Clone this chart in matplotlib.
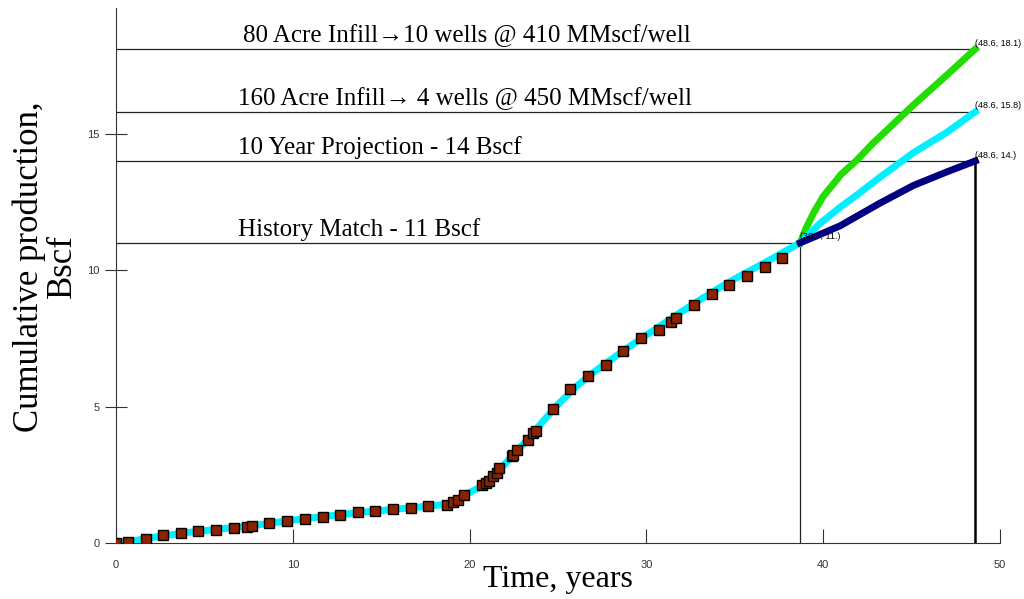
import matplotlib
matplotlib.use("Agg")
import matplotlib.pyplot as plt

# Observed data (years, Bscf)
obs_x = [0.0, 0.66, 1.68, 2.68, 3.68, 4.66, 5.66, 6.66, 7.39, 7.67, 8.67, 9.67, 10.67,
         11.69, 12.69, 13.69, 14.67, 15.67, 16.67, 17.67, 18.7, 19.08, 19.36, 19.70,
         20.68, 20.91, 21.12, 21.34, 21.53, 21.68, 22.38, 22.45, 22.68, 23.29, 23.57,
         23.75, 24.70, 25.70, 26.70, 27.70, 28.69, 29.69, 30.70, 31.39, 31.67, 32.68,
         33.69, 34.69, 35.69, 36.70, 37.69]
obs_y = [0.0, 0.03, 0.16, 0.28, 0.35, 0.43, 0.49, 0.54, 0.57, 0.61, 0.72, 0.81, 0.89,
         0.96, 1.04, 1.12, 1.17, 1.23, 1.28, 1.35, 1.40, 1.50, 1.58, 1.76,
         2.12, 2.19, 2.28, 2.45, 2.57, 2.76, 3.19, 3.24, 3.41, 3.77, 4.02,
         4.10, 4.90, 5.63, 6.12, 6.51, 7.03, 7.50, 7.81, 8.10, 8.24, 8.71,
         9.12, 9.46, 9.80, 10.12, 10.45]

# History-match curve
fit_x = [0, 1, 2, 4, 6, 8, 10, 12, 14, 16, 18, 19, 19.5, 20, 20.5, 21, 21.5, 22, 22.5,
         23, 23.5, 24, 25, 26, 27, 28, 29, 30, 31, 32, 33, 34, 35, 36, 37, 38, 38.7]
fit_y = [0, 0.08, 0.2, 0.38, 0.52, 0.66, 0.84, 0.99, 1.13, 1.25, 1.37, 1.45, 1.6, 1.85,
         2.02, 2.22, 2.5, 2.9, 3.25, 3.6, 3.95, 4.35, 5.08, 5.72, 6.25, 6.72, 7.18,
         7.62, 8.05, 8.48, 8.9, 9.3, 9.68, 10.03, 10.38, 10.75, 11.0]

# Projections
p80_x = [38.7, 39.0, 39.5, 40.0, 41.0, 41.9, 42.8, 43.8, 45.1, 47.0, 48.6]
p80_y = [11.0, 11.5, 12.15, 12.7, 13.5, 14.03, 14.64, 15.25, 16.05, 17.15, 18.1]
p160_x = [38.7, 39.8, 40.95, 41.9, 43.2, 45.1, 47.0, 48.6]
p160_y = [11.0, 11.7, 12.3, 12.75, 13.4, 14.3, 15.05, 15.8]
p10_x = [38.7, 39.8, 40.95, 43.2, 45.1, 47.0, 48.6]
p10_y = [11.0, 11.3, 11.62, 12.45, 13.1, 13.6, 14.0]

ref_levels = [18.1, 15.8, 14.0, 11.0]
ref_ends = [48.6, 48.6, 48.6, 38.7]
ref_texts = ["80 Acre Infill\u219210 wells @ 410 MMscf/well",
             "160 Acre Infill\u2192 4 wells @ 450 MMscf/well",
             "10 Year Projection - 14 Bscf",
             "History Match - 11 Bscf"]
ref_text_x = [7.2, 6.9, 6.9, 6.9]
point_labels = ["(48.6, 18.1)", "(48.6, 15.8)", "(48.6, 14.)", "(38.7, 11.)"]

fig = plt.figure(figsize=(10.24, 5.99), dpi=100)
ax = fig.add_axes([0.1133, 0.0935, 0.8633, 0.893])

serif = ["Liberation Serif", "DejaVu Sans"]

for lvl, xe in zip(ref_levels, ref_ends):
    ax.plot([0, xe], [lvl, lvl], color="#222222", lw=0.9, zorder=2)
ax.plot([38.7, 38.7], [0, 11.0], color="#222222", lw=0.9, zorder=2)
ax.plot([48.6, 48.6], [0, 14.0], color="black", lw=1.8, zorder=2)

ax.plot(fit_x, fit_y, color="#00F0FF", lw=5, solid_capstyle="butt", zorder=3)
ax.plot(p80_x, p80_y, color="#22DD00", lw=5, zorder=3)
ax.plot(p160_x, p160_y, color="#00F0FF", lw=5, zorder=3)
ax.plot(p10_x, p10_y, color="#000080", lw=5, zorder=4)

ax.plot(obs_x, obs_y, ls="none", marker="s", ms=7.5, mfc="#8B2200", mec="black",
        mew=1.0, zorder=5)

for lvl, t, tx in zip(ref_levels, ref_texts, ref_text_x):
    ax.text(tx, lvl + 0.08, t, family=serif, fontsize=18, ha="left", va="bottom",
            zorder=6)

for (px, py), lab in zip([(48.6, 18.1), (48.6, 15.8), (48.6, 14.0), (38.7, 11.0)],
                         point_labels):
    ax.text(px, py + 0.05, lab, fontsize=6.5, family="Liberation Sans",
            ha="left", va="bottom", zorder=6)

ax.set_xlim(0, 50)
ax.set_ylim(0, 19.6)
ax.set_xticks([0, 10, 20, 30, 40, 50])
ax.set_yticks([0, 5, 10, 15])
for s in ["top", "right"]:
    ax.spines[s].set_visible(False)
for s in ["left", "bottom"]:
    ax.spines[s].set_color("#333333")
ax.tick_params(axis="x", direction="in", length=10, labelsize=8, colors="#333333",
               pad=12)
ax.tick_params(axis="y", direction="inout", length=16, labelsize=8, colors="#333333",
               pad=4)
for lbl in ax.get_xticklabels() + ax.get_yticklabels():
    lbl.set_family("Liberation Sans")

fig.text(0.545, 0.008, "Time, years", family="Liberation Serif", fontsize=23,
         ha="center", va="bottom")
fig.text(0.045, 0.555, "Cumulative production,\nBscf", family="Liberation Serif",
         fontsize=25, ha="center", va="center", rotation=90, linespacing=1.0)

fig.savefig("out.png", dpi=100)
